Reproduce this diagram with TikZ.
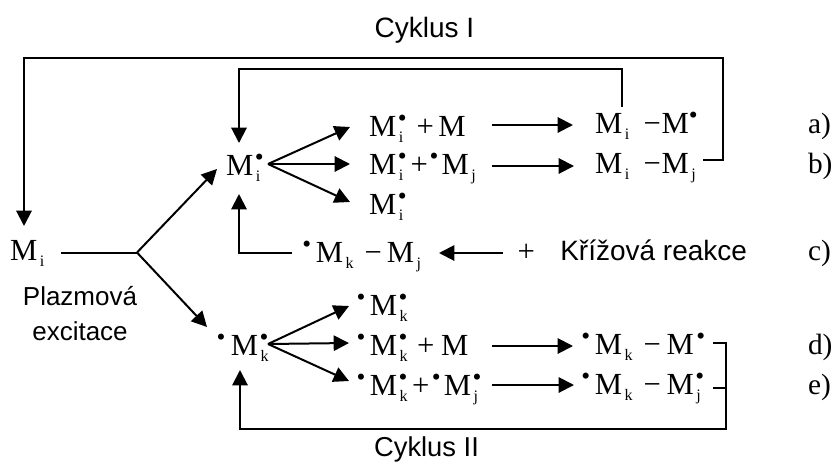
\documentclass[tikz,border=0pt]{standalone}
\usepackage{fontspec}
\setmainfont{Liberation Serif}
\newfontfamily\labelsans{Liberation Sans}
\usetikzlibrary{arrows.meta}
\newcommand{\Gp}[1]{\kern#1\dimexpr 0.75pt\relax}
\newcommand{\Bu}{\raisebox{6.8pt}{\fontsize{19}{19}\selectfont •}}
\newcommand{\Su}[1]{\raisebox{-5pt}{\fontsize{12}{12}\selectfont #1}}
% M with subscript #1 and radical dot above it
\newcommand{\MR}[1]{M\rlap{\Gp{1.5}\Bu}\Gp{2.5}\Su{#1}}
% M with subscript only
\newcommand{\MS}[1]{M\Gp{2.5}\Su{#1}}
\tikzset{
  chem/.style={inner sep=0pt,outer sep=0pt,anchor=base west,font=\fontsize{23}{23}\selectfont},
  tag/.style={inner sep=0pt,outer sep=0pt,anchor=base west,font=\fontsize{22}{22}\selectfont},
  sanslabel/.style={inner sep=0pt,anchor=base,font=\labelsans\fontsize{21}{21}\selectfont},
  sansmid/.style={sanslabel,font=\labelsans\fontsize{20.5}{20.5}\selectfont},
  sanssmall/.style={sanslabel,font=\labelsans\fontsize{19.5}{19.5}\selectfont},
  link/.style={line width=1.5pt,line join=miter},
  arr/.style={link,-{Triangle[length=11.5pt,width=11.5pt]}}
}
\begin{document}
\begin{tikzpicture}[x=0.75pt,y=-0.75pt]
\useasboundingbox (0,0) rectangle (835,465);
% labels
\node[sanslabel] (c1) at (424.5,37) {Cyklus I};
\node[sansmid] (c2) at (426.5,456.5) {Cyklus II};
\node[sanssmall] (pl) at (80,305) {Plazmová};
\node[sanssmall] (ex) at (80,340) {excitace};
\node[sanslabel,anchor=base west] (kr) at (560,260) {Křížová reakce};
% species
\node[chem] (m) at (10,260) {\MS{i}};
\node[chem] (mi) at (226,175) {\MR{i}};
\node[chem] (ra) at (369,136) {\MR{i}\Gp{13.5}+\Gp{4.5}M};
\node[chem] (rb) at (369,174) {\MR{i}\Gp{7.5}+\Gp{1.7}\Bu\Gp{3}\MS{j}};
\node[chem] (rc) at (369,214) {\MR{i}};
\node[chem] (pa) at (595,133) {\MS{i}\Gp{14.5}−\Gp{0.5}M\Bu};
\node[chem] (pb) at (595,173) {\MS{i}\Gp{14.5}−\Gp{0.5}\MS{j}};
\node[chem] (cr) at (302.3,262) {\Bu\Gp{4.8}\MS{k}\Gp{10.8}−\Gp{5}\MS{j}};
\node[chem] (pp) at (517.5,261.5) {+};
\node[chem] (mk) at (216.6,355) {\Bu\Gp{5.5}\MR{k}};
\node[chem] (sa) at (356.6,315) {\Bu\Gp{4.5}\MR{k}};
\node[chem] (sb) at (356.6,355) {\Bu\Gp{4.5}\MR{k}\Gp{9.5}+\Gp{6.5}M};
\node[chem] (sc) at (356.6,395) {\Bu\Gp{4.5}\MR{k}\Gp{4.5}+\Gp{2.4}\Bu\Gp{3}\MR{j}};
\node[chem] (qa) at (581.3,354) {\Bu\Gp{4.8}\MS{k}\Gp{11}−\Gp{5.5}M\Gp{2.5}\Bu};
\node[chem] (qb) at (581.3,394) {\Bu\Gp{4.8}\MS{k}\Gp{11}−\Gp{5.5}\MR{j}};
\node[tag] (la) at (808,133) {a)};
\node[tag] (lb) at (808,173) {b)};
\node[tag] (lc) at (808,260) {c)};
\node[tag] (ld) at (808,354) {d)};
\node[tag] (le) at (808,394) {e)};
% connector anchors
\coordinate (mE) at (61,252.5);
\coordinate (fork) at (137,252.5);
\coordinate (miIn) at (217,169);
\coordinate (mkIn) at (207,327);
\coordinate (miF) at (268,164);
\coordinate (raW) at (350,127);
\coordinate (rbW) at (350,164);
\coordinate (rcW) at (350,202);
\coordinate (mkF) at (268,344);
\coordinate (saW) at (349,306);
\coordinate (sbW) at (349,343);
\coordinate (scW) at (349,381);
\coordinate (raE) at (492,125);
\coordinate (paW) at (573,125);
\coordinate (rbE) at (492,166);
\coordinate (pbW) at (574,166);
\coordinate (sbE) at (492,346);
\coordinate (qaW) at (573,346);
\coordinate (scE) at (492,385);
\coordinate (qbW) at (574,385);
\coordinate (ppW) at (503,253);
\coordinate (crE) at (439,253);
\coordinate (crW) at (292,253);
\coordinate (miS) at (239,194);
\coordinate (miN) at (239,143);
\coordinate (mN) at (24,226);
\coordinate (paN) at (622,107);
\coordinate (pbE) at (703,160);
\coordinate (qaE) at (713,343);
\coordinate (qbE) at (713,388);
\coordinate (qJoin) at (726,388);
\coordinate (mkS) at (240,370);
% connectors
\draw[link] (mE) -- (fork);
\draw[arr] (fork) -- (miIn);
\draw[arr] (fork) -- (mkIn);
\draw[arr] (miF) -- (raW);
\draw[arr] (miF) -- (rbW);
\draw[arr] (miF) -- (rcW);
\draw[arr] (mkF) -- (saW);
\draw[arr] (mkF) -- (sbW);
\draw[arr] (mkF) -- (scW);
\draw[arr] (raE) -- (paW);
\draw[arr] (rbE) -- (pbW);
\draw[arr] (sbE) -- (qaW);
\draw[arr] (scE) -- (qbW);
\draw[arr] (ppW) -- (crE);
\draw[arr] (crW) -| (miS);
\draw[arr] (paN) |- (239,69) -- (miN);
\draw[arr] (pbE) -- (723,160) -- (723,57.5) -- (24,57.5) -- (mN);
\draw[arr] (qaE) -- (726,343) -- (726,429) -- (240,429) -- (mkS);
\draw[link] (qbE) -- (qJoin);
\end{tikzpicture}
\end{document}
